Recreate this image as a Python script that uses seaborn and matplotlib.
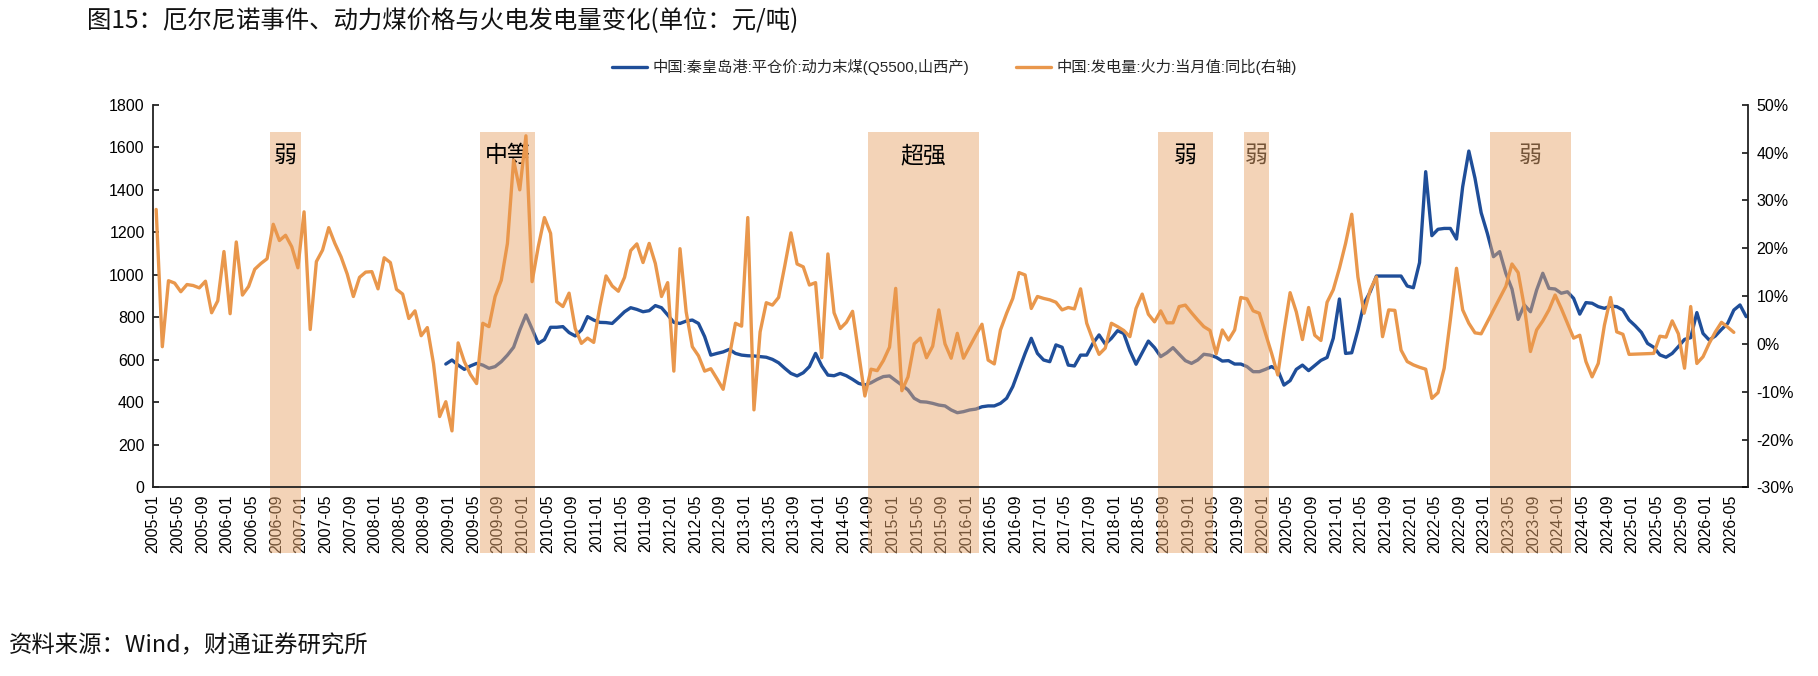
import numpy as np
import pandas as pd
import matplotlib
matplotlib.use("Agg")
import matplotlib.pyplot as plt
import seaborn as sns

# Monthly categories 2005-01 .. 2026-07
months = pd.period_range("2005-01", periods=259, freq="M").strftime("%Y-%m").tolist()
tick_labels = months[:257:4]

# 中国:秦皇岛港:平仓价:动力末煤(Q5500,山西产), 元/吨 (starts 2008-12)
coal_price = [None] * 47 + [
    580, 599, 575, 555, 571, 583, 575, 560, 568, 591, 622, 659, 740,
    811, 745, 677, 695, 753, 753, 756, 728, 712, 740, 803, 787, 776,
    775, 771, 798, 826, 845, 837, 826, 831, 855, 845, 811, 776, 771,
    782, 787, 771, 709, 622, 630, 637, 649, 630, 622, 619, 618, 615,
    612, 602, 586, 560, 536, 524, 539, 568, 630, 571, 528, 525, 536,
    525, 508, 489, 481, 492, 508, 521, 524, 502, 481, 458, 419, 403,
    401, 395, 387, 383, 364, 351, 356, 364, 368, 379, 383, 383, 395,
    419, 474, 552, 630, 701, 630, 599, 591, 670, 659, 575, 571, 622,
    622, 677, 717, 674, 701, 737, 724, 643, 579, 633, 688, 657, 615,
    633, 657, 626, 596, 583, 599, 626, 622, 612, 594, 596, 580, 580,
    568, 544, 544, 555, 568, 552, 481, 502, 555, 575, 549, 573, 597,
    611, 701, 886, 630, 633, 740, 866, 920, 994, 994, 994, 994, 994,
    947, 939, 1057, 1485, 1184, 1214, 1218, 1218, 1168, 1414, 1582, 1454, 1292,
    1195, 1085, 1109, 1007, 933, 790, 858, 826, 928, 1007, 936, 933, 913,
    920, 889, 815, 869, 866, 850, 842, 853, 850, 834, 787, 760, 729,
    677, 659, 623, 612, 630, 662, 696, 704, 822, 724, 693, 712, 743,
    771, 834, 858, 803,
]

# 中国:发电量:火力:当月值:同比 (%), right axis
thermal_yoy = [
    28.1, -0.6, 13.2, 12.7, 10.9, 12.4, 12.2, 11.7, 13.1, 6.5, 9.0, 19.3,
    6.3, 21.3, 10.2, 12.0, 15.6, 16.8, 17.8, 25.0, 21.6, 22.7, 20.3, 15.9,
    27.6, 3.0, 17.2, 19.6, 24.3, 21.0, 18.2, 14.6, 9.9, 13.9, 15.0, 15.1,
    11.5, 18.0, 17.0, 11.4, 10.4, 5.3, 6.9, 1.7, 3.4, -4.1, -15.2, -12.1,
    -18.2, 0.2, -3.7, -6.4, -8.3, 4.3, 3.6, 9.9, 13.3, 21.0, 38.4, 32.2,
    43.5, 13.0, 20.3, 26.4, 23.1, 8.8, 7.8, 10.6, 3.2, 0.1, 1.2, 0.3,
    7.8, 14.2, 12.1, 11.0, 13.9, 19.5, 20.9, 17.0, 21.0, 16.8, 9.9, 12.8,
    -5.7, 19.9, 6.7, -0.6, -2.5, -5.7, -5.2, -7.3, -9.5, -2.7, 4.3, 3.7,
    26.4, -13.8, 2.5, 8.6, 8.1, 9.7, 16.3, 23.2, 16.7, 16.1, 12.3, 12.8,
    -2.9, 18.8, 6.5, 3.2, 4.5, 6.8, -2.0, -10.9, -5.3, -5.6, -3.5, -0.7,
    11.6, -9.8, -6.9, 0.0, 1.2, -2.9, -0.5, 7.1, 0.0, -3.0, 2.2, -3.0,
    -0.6, 1.8, 4.1, -3.4, -4.2, 2.9, 6.4, 9.5, 14.9, 14.4, 7.4, 9.9,
    9.5, 9.2, 8.7, 7.1, 7.6, 7.3, 11.5, 4.3, 0.8, -2.2, -0.9, 4.3,
    3.6, 2.8, 1.5, 7.4, 10.4, 6.2, 4.6, 6.9, 4.4, 4.4, 7.8, 8.1,
    6.5, 5.0, 3.6, 2.8, -2.1, 2.9, 0.8, 2.9, 9.7, 9.4, 6.9, 6.4,
    2.2, -2.0, -6.5, 2.5, 10.7, 6.7, 0.9, 7.6, 1.8, 0.7, 8.7, 11.3,
    15.8, 21.0, 27.1, 14.0, 6.4, 11.3, 14.0, 1.5, 7.1, 7.0, -1.3, -3.7,
    -4.4, -4.9, -5.3, -11.4, -10.2, -5.1, 5.0, 15.8, 7.1, 4.3, 2.3, 2.1,
    None, None, None, 12.0, 16.7, 14.9, 7.8, -1.6, 2.9, 4.8, 7.1, 10.2,
    7.4, 4.3, 1.2, 1.8, -3.7, -6.9, -4.1, 3.9, 9.7, 2.5, 2.0, -2.2,
    None, None, None, -2.0, 1.6, 1.4, 4.8, 2.1, -5.1, 7.8, -4.1, -2.7,
    0.1, 2.5, 4.5, 3.5, 2.4, None, None,
]

# El Nino episodes: first month, last month, strength label
band_start = ["2006-08", "2009-06", "2014-09", "2018-08", "2019-10", "2023-02"]
band_end = ["2006-12", "2010-02", "2016-02", "2019-04", "2020-01", "2024-02"]
band_text = ["弱", "中等", "超强", "弱", "弱", "弱"]

label_coal = "中国:秦皇岛港:平仓价:动力末煤(Q5500,山西产)"
label_power = "中国:发电量:火力:当月值:同比(右轴)"


def main():
    sns.set_theme(style="white")
    plt.rcParams["font.family"] = ["Liberation Sans", "Noto Sans CJK SC"]
    plt.rcParams["axes.unicode_minus"] = False

    df = pd.DataFrame({
        "month": np.arange(len(months)),
        "coal": pd.to_numeric(pd.Series(coal_price), errors="coerce"),
        "power": pd.to_numeric(pd.Series(thermal_yoy), errors="coerce"),
    })

    fig = plt.figure(figsize=(18.18, 6.76), dpi=100)
    ax = fig.add_axes([0.0842, 0.2791, 0.9615 - 0.0842, 0.8451 - 0.2791])
    ax2 = ax.twinx()

    blue = "#1f4e99"
    orange = "#e9974c"

    sns.lineplot(data=df.dropna(subset=["coal"]), x="month", y="coal", ax=ax,
                 color=blue, lw=2.4, estimator=None, label=label_coal, zorder=1.6)
    sns.lineplot(data=df.dropna(subset=["power"]), x="month", y="power", ax=ax2,
                 color=orange, lw=2.4, estimator=None, label=label_power, zorder=2)

    # shaded episodes, running down over the date labels
    for s, e, t in zip(band_start, band_end, band_text):
        i0, i1 = months.index(s), months.index(e)
        ax.axvspan(i0 - 0.5, i1 + 0.5, ymin=-0.172, ymax=1670 / 1800,
                   color="#e8a870", alpha=0.5, lw=0, clip_on=False, zorder=1.8)
        dim = s >= "2019-10"
        ax.text((i0 + i1) / 2, 1560, t, ha="center", va="center", fontsize=16.5,
                family=["Noto Sans CJK SC"], color="black",
                zorder=1.7 if dim else 3)

    ax.set_xlim(-0.5, 258.3)
    ax.set_ylim(0, 1800)
    ax.set_yticks(np.arange(0, 1801, 200))
    ax.set_xticks(np.arange(0, 257, 4) - 0.5)
    ax.set_xticklabels(tick_labels, rotation=90)
    ax2.set_ylim(-30, 50)
    ax2.set_yticks(np.arange(-30, 51, 10))
    ax2.set_yticklabels([f"{v}%" for v in range(-30, 51, 10)])

    for a in (ax, ax2):
        a.set_xlabel("")
        a.set_ylabel("")
        a.tick_params(direction="in", length=4, width=1.1, colors="black",
                      labelsize=11.5, labelcolor="black")
        a.get_legend().remove()
        for sp in a.spines.values():
            sp.set_color("#222222")
            sp.set_linewidth(1.3)
        a.spines["top"].set_visible(False)
    ax.tick_params(axis="x", pad=5)
    ax.tick_params(axis="y", pad=6)
    ax2.tick_params(axis="y", pad=6)
    ax.spines["right"].set_visible(False)
    ax2.spines["left"].set_visible(False)
    ax2.spines["bottom"].set_visible(False)

    h1, l1 = ax.get_legend_handles_labels()
    h2, l2 = ax2.get_legend_handles_labels()
    fig.legend(h1 + h2, l1 + l2, loc="center", bbox_to_anchor=(0.525, 0.901),
               ncol=2, frameon=False, fontsize=11, handlelength=2.3,
               columnspacing=3.0, handletextpad=0.4)

    fig.text(87 / 1818, 1 - 21 / 676, "图15：厄尔尼诺事件、动力煤价格与火电发电量变化(单位：元/吨)",
             ha="left", va="center", fontsize=17.6, family=["Noto Sans CJK SC"], color="#111111")
    fig.text(9 / 1818, 1 - 646 / 676, "资料来源：Wind，财通证券研究所",
             ha="left", va="center", fontsize=16.8, family=["Noto Sans CJK SC"], color="#111111")

    fig.savefig("out.png", dpi=100)


if __name__ == "__main__":
    main()
